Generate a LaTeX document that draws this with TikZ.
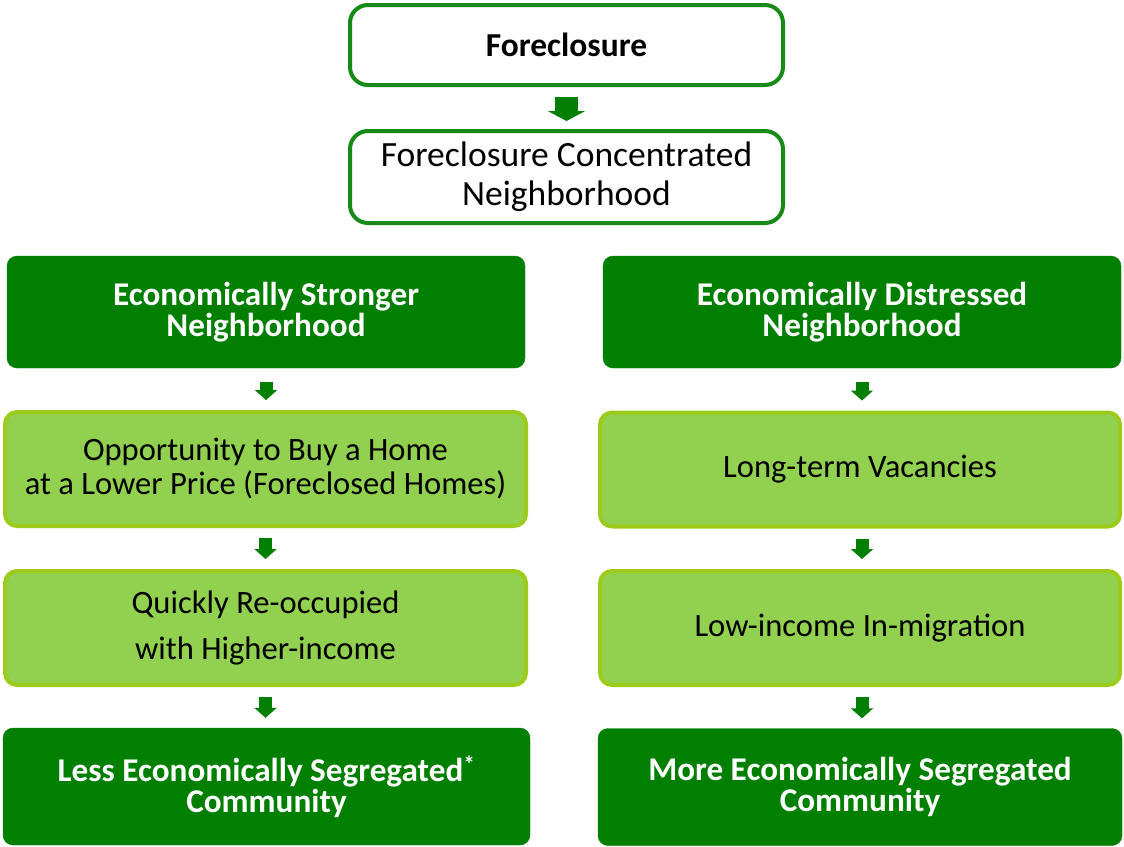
\documentclass[tikz,border=0pt]{standalone}
\usepackage{fontspec}
\setmainfont{Carlito}
\usetikzlibrary{arrows.meta}
\definecolor{darkgrn}{HTML}{007F00}
\definecolor{lightgrn}{HTML}{92D050}
\definecolor{limeedge}{HTML}{9CCB1C}
\definecolor{edgegrn}{HTML}{178A17}
\begin{document}
\begin{tikzpicture}[x=1pt, y=-1pt,
        plain/.style={draw=edgegrn, line width=4pt, fill=white, rounded corners=18pt, align=center, inner sep=0pt, font=\fontsize{35.5}{39}\selectfont},
        dark/.style={draw=darkgrn, fill=darkgrn, rounded corners=10pt, text=white, align=center, inner sep=0pt, font=\fontsize{33.2}{31}\selectfont\bfseries},
        light/.style={draw=limeedge, line width=4pt, fill=lightgrn, rounded corners=12pt, align=center, inner sep=0pt, font=\fontsize{32.6}{34}\selectfont},
        bigarrow/.style={draw=darkgrn, line width=23pt, -{Triangle[length=10pt, width=37pt]}},
        smallarrow/.style={draw=darkgrn, line width=13pt, -{Triangle[length=10pt, width=22pt]}}]
        \path [use as bounding box] (0, 0) rectangle (1124, 846);
        \node [plain, minimum width=433pt, minimum height=80pt] (0) at (566.5, 45) {\fontsize{33.5}{39}\selectfont\bfseries Foreclosure};
        \node [plain, minimum width=433pt, minimum height=92pt] (1) at (566.5, 177) {Foreclosure Concentrated\\Neighborhood};
        \node [dark, minimum width=518pt, minimum height=112pt] (2) at (266, 312) {Economically Stronger\\Neighborhood};
        \node [dark, minimum width=518pt, minimum height=112pt] (3) at (862, 312) {Economically Distressed\\Neighborhood};
        \node [light, minimum width=521pt, minimum height=114pt] (4) at (265.5, 469) {Opportunity to Buy a Home\\at a Lower Price (Foreclosed Homes)};
        \node [light, minimum width=520pt, minimum height=114pt] (5) at (860, 469.5) {Long-term Vacancies};
        \node [light, minimum width=521pt, minimum height=114pt] (6) at (265.5, 628) {Quickly Re-occupied\\[12pt]with Higher-income};
        \node [light, minimum width=520pt, minimum height=114pt] (7) at (860, 628) {Low-income In-migration};
        \node [dark, minimum width=527pt, minimum height=117pt] (8) at (266.5, 786.5) {Less Economically Segregated\textsuperscript{*}\\Community};
        \node [dark, minimum width=524pt, minimum height=117pt] (9) at (860, 787) {More Economically Segregated\\Community};
        \draw [bigarrow, shorten <=10pt, shorten >=8pt] (0.south) to (1.north);
		\draw [smallarrow, shorten <=14pt, shorten >=10pt] (2.south) to (4.north -| 2.south);
		\draw [smallarrow, shorten <=14pt, shorten >=10pt] (3.south) to (5.north -| 3.south);
		\draw [smallarrow, shorten <=10pt, shorten >=10pt] (4.south) to (6.north);
		\draw [smallarrow, shorten <=10pt, shorten >=10pt] (5.south -| 3.south) to (7.north -| 3.south);
		\draw [smallarrow, shorten <=10pt, shorten >=10pt] (6.south) to (8.north -| 6.south);
		\draw [smallarrow, shorten <=10pt, shorten >=10pt] (7.south -| 3.south) to (9.north -| 3.south);
    \end{tikzpicture}
\end{document}
